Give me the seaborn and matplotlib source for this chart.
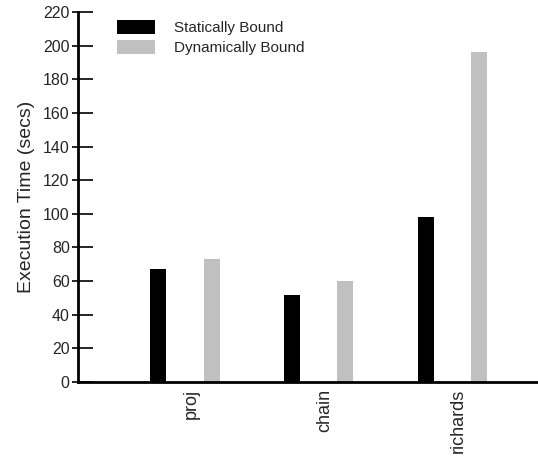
import matplotlib
matplotlib.use("Agg")
import matplotlib.pyplot as plt
import matplotlib.transforms as mtransforms
import seaborn as sns
import pandas as pd

benchmarks = ["proj", "chain", "richards"]
static_times = [67, 52, 98]
dynamic_times = [73, 60, 196]
series_names = ["Statically Bound", "Dynamically Bound"]
y_ticks = list(range(0, 221, 20))

df = pd.DataFrame({
    "benchmark": benchmarks * 2,
    "time": static_times + dynamic_times,
    "binding": [series_names[0]] * 3 + [series_names[1]] * 3,
})

sns.set_theme(style="white")
plt.rcParams["font.family"] = ["Liberation Sans", "DejaVu Sans"]

fig = plt.figure(figsize=(5.38, 4.57), dpi=100)
ax = fig.add_axes([78 / 538, 1 - 382 / 457, 1 - 78 / 538, 370 / 457])

sns.barplot(
    data=df, x="benchmark", y="time", hue="binding",
    order=benchmarks, hue_order=series_names,
    palette=["#000000", "#c0c0c0"], width=0.8, gap=0.7,
    saturation=1, linewidth=0, ax=ax,
)

ax.set_xlim(-0.8, 2.64)
ax.set_ylim(0, 220)
ax.set_yticks(y_ticks)
ax.set_yticklabels([str(t) for t in y_ticks], fontsize=11.5)
# short outward stubs at the same positions as the inward major ticks
ax.set_yticks(y_ticks, minor=True)
ax.yaxis.remove_overlapping_locs = False
ax.set_xlabel("")
ax.set_ylabel("Execution Time (secs)", fontsize=14, labelpad=6)

for side in ("top", "right"):
    ax.spines[side].set_visible(False)
for side in ("left", "bottom"):
    ax.spines[side].set_linewidth(2)
    ax.spines[side].set_color("black")

ax.tick_params(axis="y", which="major", left=True, direction="in", length=11,
               width=1.2, color="black", pad=6)
ax.tick_params(axis="y", which="minor", left=True, direction="out", length=4,
               width=1.2, color="black")
ax.tick_params(axis="x", bottom=False, length=0, pad=5)
for lbl in ax.get_xticklabels():
    lbl.set_rotation(90)
    lbl.set_fontsize(13)
    lbl.set_va("top")
    lbl.set_ha("center")
    lbl.set_transform(lbl.get_transform() + mtransforms.ScaledTranslation(6 / 100, 0, fig.dpi_scale_trans))

leg = ax.legend(
    loc="upper left", bbox_to_anchor=(0.055, 1.015), frameon=False,
    fontsize=11, handlelength=2.5, handleheight=1.0, handletextpad=1.2,
    labelspacing=0.3, title=None,
)

fig.savefig("out.png", dpi=100, facecolor="white")
